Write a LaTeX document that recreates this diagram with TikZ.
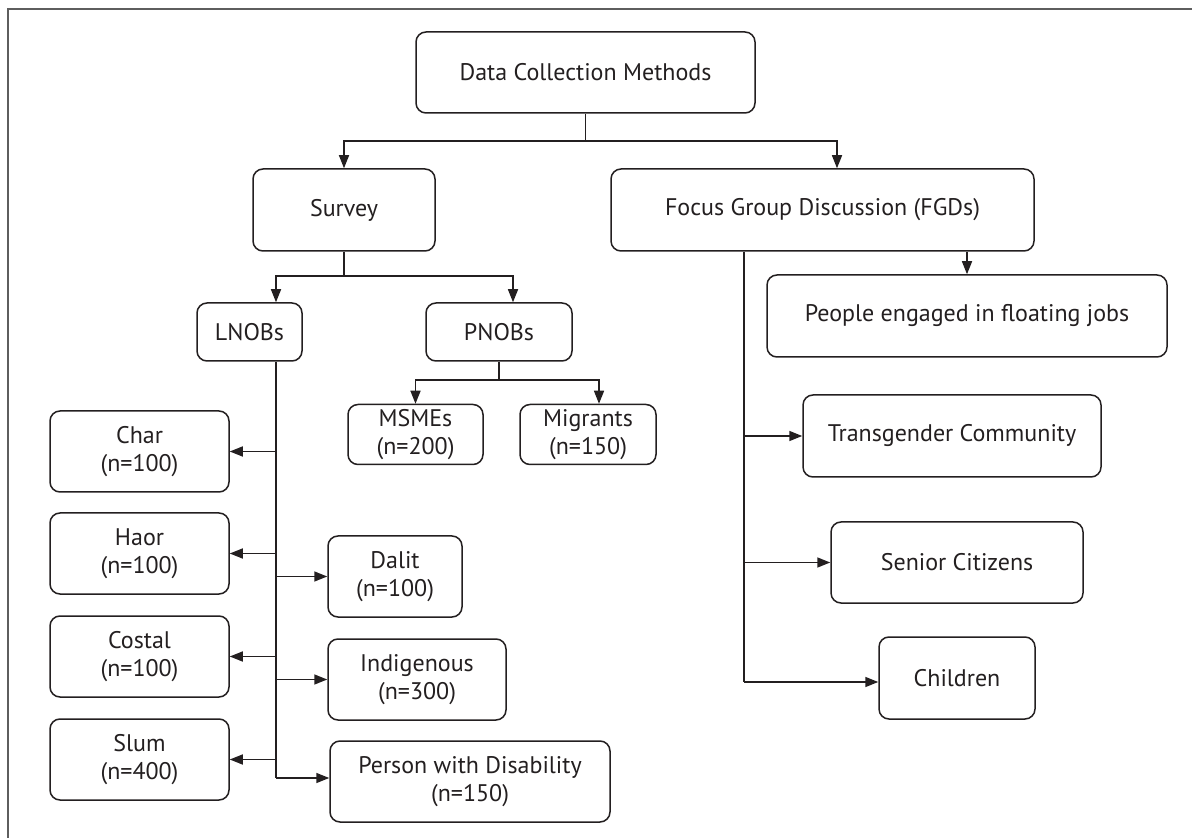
\documentclass[tikz,border=0pt]{standalone}
\usepackage{fontspec}
\setmainfont{PT Sans}
\usetikzlibrary{arrows.meta}
\definecolor{linec}{HTML}{231F20}
\definecolor{framec}{HTML}{5E5E5E}
\begin{document}
\begin{tikzpicture}[x=0.5pt,y=-0.5pt,
  box/.style={draw=linec, line width=0.75pt, rounded corners=5pt, align=center, inner sep=0pt, text=linec, font=\fontsize{12}{14}\selectfont},
  ln/.style={draw=linec, line width=0.75pt},
  arr/.style={draw=linec, line width=0.75pt, -{Triangle[length=6.5pt,width=5pt]}}]
\useasboundingbox (0,0) rectangle (1192,838);
\draw[framec, line width=1.1pt] (8,838) -- (8,9) -- (1192,9);

\node[box, minimum width=169.5pt, minimum height=40.5pt] (dcm) at (585.5,72.5) {Data Collection Methods};
\node[box, minimum width=91pt, minimum height=41pt] (survey) at (344,210) {Survey};
\node[box, minimum width=211.5pt, minimum height=41pt] (focus) at (822.5,210) {Focus Group Discussion (FGDs)};
\node[box, minimum width=52.5pt, minimum height=29pt] (lnobs) at (249.5,332) {LNOBs};
\node[box, minimum width=73pt, minimum height=29pt] (pnobs) at (499,332) {PNOBs};
\node[box, minimum width=67.5pt, minimum height=30pt] (msmes) at (415.5,434.5) {MSMEs\\(n=200)};
\node[box, minimum width=68pt, minimum height=30pt] (migrants) at (588,434.5) {Migrants\\(n=150)};
\node[box, minimum width=200pt, minimum height=41pt] (people) at (967,316) {People engaged in floating jobs};
\node[box, minimum width=89.5pt, minimum height=40.5pt] (char) at (139.5,451.5) {Char\\(n=100)};
\node[box, minimum width=89.5pt, minimum height=40.5pt] (haor) at (139.5,553.5) {Haor\\(n=100)};
\node[box, minimum width=89.5pt, minimum height=40.5pt] (costal) at (139.5,656.5) {Costal\\(n=100)};
\node[box, minimum width=89.5pt, minimum height=40.5pt] (slum) at (139.5,759.5) {Slum\\(n=400)};
\node[box, minimum width=67pt, minimum height=40.5pt] (dalit) at (395,576.5) {Dalit\\(n=100)};
\node[box, minimum width=89pt, minimum height=40.5pt] (indig) at (417,679.5) {Indigenous\\(n=300)};
\node[box, minimum width=140pt, minimum height=40.5pt] (pwd) at (470,781.5) {Person with Disability\\(n=150)};
\node[box, minimum width=149pt, minimum height=41pt] (trans) at (952,436) {Transgender Community};
\node[box, minimum width=126pt, minimum height=40.5pt] (senior) at (957,562.5) {Senior Citizens};
\node[box, minimum width=78pt, minimum height=41pt] (children) at (957,678) {Children};

% top level
\coordinate (b1) at (585.5,141);
\draw[ln] (dcm.south) -- (b1);
\draw[arr] (b1) -| (survey.north);
\draw[arr] (b1) -| ([xshift=7.25pt]focus.north);

% survey
\coordinate (b2) at (344,276);
\draw[ln] (survey.south) -- (b2);
\draw[arr] (b2) -| ([xshift=13.25pt]lnobs.north);
\draw[arr] (b2) -| ([xshift=7pt]pnobs.north);

% pnobs
\coordinate (b3) at (499,380);
\draw[ln] (pnobs.south) -- (b3);
\draw[arr] (b3) -| (msmes.north);
\draw[arr] (b3) -| ([xshift=5.5pt]migrants.north);

% lnobs spine
\coordinate (lb) at (276,778);
\draw[ln] ([xshift=13.25pt]lnobs.south) -- (lb);
\draw[arr] (lb |- char.east) -- (char.east);
\draw[arr] (lb |- haor.east) -- (haor.east);
\draw[arr] (lb |- costal.east) -- (costal.east);
\draw[arr] (lb |- slum.east) -- (slum.east);
\draw[arr] (lb |- dalit.west) -- (dalit.west);
\draw[arr] (lb |- indig.west) -- (indig.west);
\draw[arr] (lb) -- (lb -| pwd.west);

% fgd spine
\coordinate (fb) at (744,682);
\draw[ln] (focus.south -| fb) -- (fb);
\draw[arr] (focus.south -| people.north) -- (people.north);
\draw[arr] (fb |- trans.west) -- (trans.west);
\draw[arr] (fb |- senior.west) -- (senior.west);
\draw[arr] (fb) -- (fb -| children.west);
\end{tikzpicture}
\end{document}
